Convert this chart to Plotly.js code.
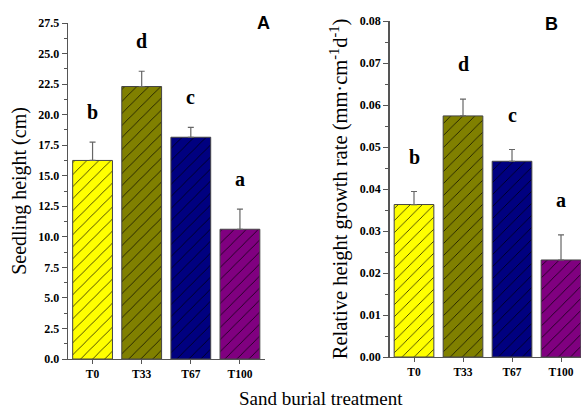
<!DOCTYPE html>
<html><head><meta charset="utf-8">
<script src="https://cdn.plot.ly/plotly-3.0.1.min.js"></script>
<style>html,body{margin:0;padding:0;background:#fff}#c{width:581px;height:411px}</style>
</head><body><div id="c"></div>
<script>
var categories = ["T0","T33","T67","T100"];
var heightVals = [16.25, 22.3, 18.15, 10.62];
var heightErr = [1.5, 1.25, 0.8, 1.65];
var heightLetters = ["b","d","c","a"];
var rateVals = [0.0363, 0.0574, 0.0466, 0.0231];
var rateErr = [0.0031, 0.0040, 0.0028, 0.0060];
var rateLetters = ["b","d","c","a"];
var colors = ["#FFFF00","#808000","#000080","#800080"];

var serif = "Liberation Serif, Times New Roman, serif";
function barTrace(vals, errs, xa, ya){
  return {
    type:"bar", x:categories, y:vals, xaxis:xa, yaxis:ya,
    marker:{color:"#000", line:{color:"#444", width:1},
      pattern:{shape:"/", fillmode:"replace", bgcolor:colors, size:8.5, solidity:0.08}},
    error_y:{type:"data", array:errs, arrayminus:errs.map(function(){return 0;}), symmetric:false,
      color:"#666", thickness:1.2, width:3},
    width:0.81, showlegend:false, hoverinfo:"none"
  };
}
var data = [barTrace(heightVals, heightErr, "x", "y"), barTrace(rateVals, rateErr, "x2", "y2")];

var yTickFont = {family:serif, size:12, color:"#000", weight:"bold"};
var xTickFont = {family:serif, size:11.5, color:"#000", weight:"bold"};
function xAxis(dom, anchor, rng){
  return {domain:dom, anchor:anchor, range:rng, showline:true, linecolor:"#555", linewidth:1.3,
    ticks:"outside", ticklen:4, tickcolor:"#555", showgrid:false, zeroline:false,
    tickfont:xTickFont, type:"category"};
}
function yAxis(dom, anchor, rng, dt, fmt){
  return {domain:dom, anchor:anchor, range:rng, dtick:dt, tick0:0, tickformat:fmt,
    showline:true, linecolor:"#555", linewidth:1.3, ticks:"outside", ticklen:5, tickcolor:"#555",
    minor:{dtick:dt/2, ticks:"outside", ticklen:3, tickcolor:"#555", showgrid:false},
    showgrid:false, zeroline:false, tickfont:yTickFont};
}
var layout = {
  width:581, height:411, margin:{l:0,r:0,t:0,b:0}, paper_bgcolor:"#fff", plot_bgcolor:"rgba(0,0,0,0)",
  bargap:0.19,
  xaxis: xAxis([68/581, 264.5/581], "y", [-0.5, 3.5]),
  yaxis: yAxis([1-359/411, 1-23/411], "x", [0, 27.5], 2.5, ".1f"),
  xaxis2: xAxis([389.5/581, 1], "y2", [-0.5, 3.408]),
  yaxis2: yAxis([1-357/411, 1-21/411], "x2", [0, 0.08], 0.01, ".2f"),
  annotations: []
};
layout.yaxis.title = {text:"Seedling height (cm)", font:{family:serif, size:20, color:"#000"}, standoff:6};
layout.yaxis2.title = {text:"Relative height growth rate (mm·cm<sup>-1</sup>d<sup>-1</sup>)", font:{family:serif, size:20.5, color:"#000"}, standoff:6};
layout.annotations.push({text:"Sand burial treatment", xref:"paper", yref:"paper", x:321/581, y:1-398/411,
  showarrow:false, font:{family:serif, size:19, color:"#000"}, xanchor:"center", yanchor:"middle"});
for (var i=0;i<categories.length;i++){
  layout.annotations.push({text:heightLetters[i], xref:"x", yref:"y", x:categories[i], y:heightVals[i]+heightErr[i],
    yshift:30, showarrow:false, font:{family:serif, size:20, color:"#000", weight:"bold"}, yanchor:"middle"});
  layout.annotations.push({text:rateLetters[i], xref:"x2", yref:"y2", x:categories[i], y:rateVals[i]+rateErr[i],
    yshift:35, showarrow:false, font:{family:serif, size:20, color:"#000", weight:"bold"}, yanchor:"middle"});
}
layout.annotations.push({text:"A", xref:"paper", yref:"paper", x:263/581, y:1-23/411, showarrow:false,
  font:{family:"Liberation Sans, Arial, sans-serif", size:18, color:"#000", weight:"bold"}, xanchor:"center", yanchor:"middle"});
layout.annotations.push({text:"B", xref:"paper", yref:"paper", x:551/581, y:1-24/411, showarrow:false,
  font:{family:"Liberation Sans, Arial, sans-serif", size:18, color:"#000", weight:"bold"}, xanchor:"center", yanchor:"middle"});
Plotly.newPlot("c", data, layout, {staticPlot:true});
</script></body></html>
